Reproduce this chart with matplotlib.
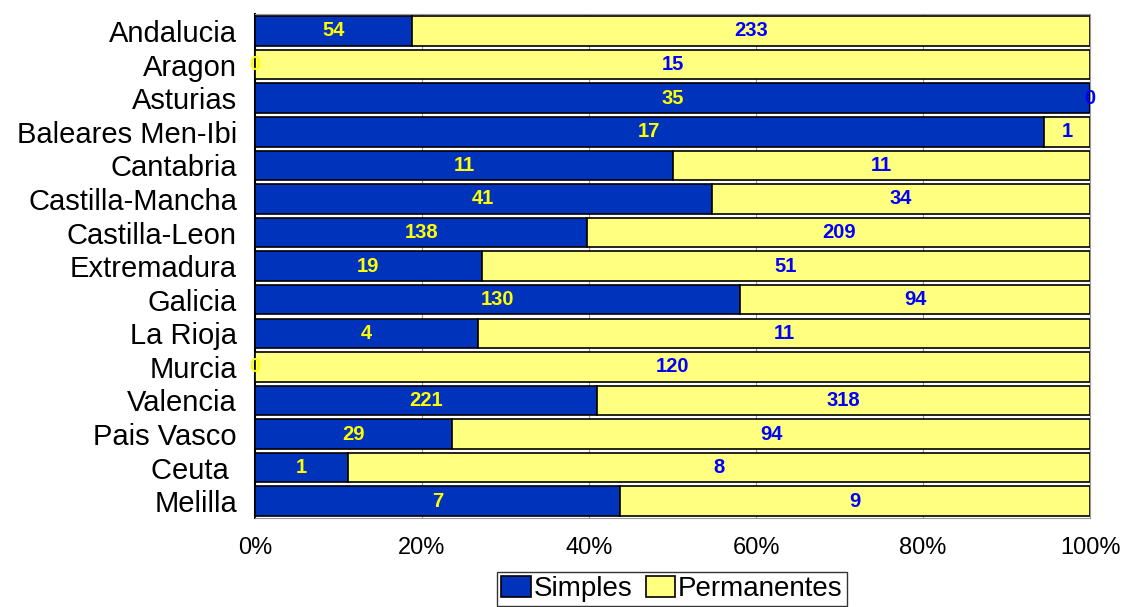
import numpy as np
import matplotlib.pyplot as plt

plt.rcParams['font.family'] = ['Liberation Sans', 'DejaVu Sans']

regions = ['Andalucia', 'Aragon', 'Asturias', 'Baleares Men-Ibi', 'Cantabria',
           'Castilla-Mancha', 'Castilla-Leon', 'Extremadura', 'Galicia', 'La Rioja',
           'Murcia', 'Valencia', 'Pais Vasco', 'Ceuta ', 'Melilla']
simples = [54, 0, 35, 17, 11, 41, 138, 19, 130, 4, 0, 221, 29, 1, 7]
permanentes = [233, 15, 0, 1, 11, 34, 209, 51, 94, 11, 120, 318, 94, 8, 9]

blue = '#0033BB'
yellow = '#FFFF80'

s = np.array(simples, dtype=float)
p = np.array(permanentes, dtype=float)
tot = s + p
s_pct = s / tot * 100
p_pct = p / tot * 100
y = np.arange(len(regions))

fig = plt.figure(figsize=(11.21, 6.07), dpi=100)
ax = fig.add_axes([0.2275, 0.1466, 0.745, 0.830])

ax.barh(y, s_pct, height=0.88, color=blue, edgecolor='black', linewidth=1.2,
        label='Simples', zorder=3)
ax.barh(y, p_pct, left=s_pct, height=0.88, color=yellow, edgecolor='black',
        linewidth=1.2, label='Permanentes', zorder=3)

for i in range(len(regions)):
    ax.text(s_pct[i] / 2, y[i], str(simples[i]), ha='center', va='center',
            color='#FFFF00', fontsize=14.5, fontweight='bold', zorder=4)
    ax.text(s_pct[i] + p_pct[i] / 2, y[i], str(permanentes[i]), ha='center',
            va='center', color='#0000FF', fontsize=14.5, fontweight='bold', zorder=4)

ax.set_ylim(len(regions) - 0.5, -0.5)
ax.set_xlim(0, 100)
ax.set_yticks(y)
ax.set_yticklabels(regions, fontsize=21)
ax.set_xticks([0, 20, 40, 60, 80, 100])
ax.set_xticklabels(['0%', '20%', '40%', '60%', '80%', '100%'], fontsize=17)
ax.tick_params(axis='y', length=0, pad=13)
ax.tick_params(axis='x', length=0, pad=14)
ax.xaxis.grid(True, color='#999999', linewidth=0.8, zorder=0)

for side in ['top', 'right', 'bottom']:
    ax.spines[side].set_color('#999999')
    ax.spines[side].set_linewidth(0.8)
ax.spines['left'].set_color('black')
ax.spines['left'].set_linewidth(1.5)

leg = fig.legend(loc='upper center', bbox_to_anchor=(0.5995, 0.0577), ncol=2,
                 fontsize=20, frameon=True, fancybox=False, edgecolor='black',
                 handlelength=1.05, handleheight=0.75, handletextpad=0.1,
                 columnspacing=0.5, borderpad=0.15, borderaxespad=0)
leg.get_frame().set_linewidth(1.0)

fig.savefig('out.png', dpi=100)
